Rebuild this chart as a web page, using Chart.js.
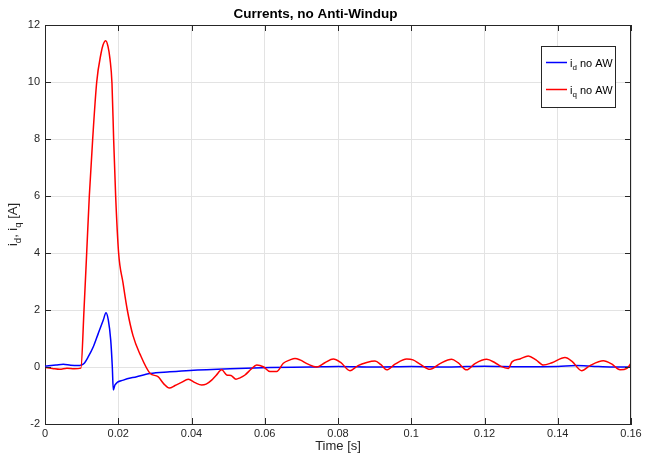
<!DOCTYPE html>
<html><head><meta charset="utf-8">
<script src="https://cdn.jsdelivr.net/npm/chart.js@4/dist/chart.umd.min.js"></script>
<style>html,body{margin:0;padding:0;background:#fff}#wrap{width:645px;height:455px}</style>
</head><body><div id="wrap"><canvas id="c" width="645" height="455"></canvas></div>
<script>
// ---- data ----
const chartTitle = 'Currents, no Anti-Windup';
const xAxisTitle = 'Time [s]';
const xTickValues = [0, 0.02, 0.04, 0.06, 0.08, 0.1, 0.12, 0.14, 0.16];
const xTickLabels = ['0', '0.02', '0.04', '0.06', '0.08', '0.1', '0.12', '0.14', '0.16'];
const yTickValues = [-2, 0, 2, 4, 6, 8, 10, 12];
const yTickLabels = ['-2', '0', '2', '4', '6', '8', '10', '12'];

const timeD = [0, 0.003, 0.005, 0.007, 0.0095, 0.0099, 0.01065, 0.01182, 0.01319, 0.01455, 0.01592, 0.01666, 0.01728, 0.01794, 0.01838, 0.01865, 0.01911, 0.02138, 0.02504, 0.02867, 0.0341, 0.0396, 0.0505, 0.0614, 0.0724, 0.08, 0.09, 0.1, 0.11, 0.12, 0.13, 0.14, 0.145, 0.15, 0.155, 0.16];
const idNoAW = [0.03, 0.07, 0.1, 0.06, 0.05, 0.07, 0.12, 0.36, 0.71, 1.18, 1.65, 1.9, 1.65, 0.95, 0.0, -0.81, -0.63, -0.46, -0.34, -0.23, -0.17, -0.12, -0.06, -0.02, 0.0, 0.02, 0.0, 0.02, 0.0, 0.03, 0.01, 0.02, 0.05, 0.02, 0.0, 0.0];

const timeQ = [0, 0.002, 0.004, 0.006, 0.008, 0.0098, 0.01065, 0.01138, 0.0121, 0.01302, 0.01412, 0.01529, 0.01584, 0.01657, 0.0172, 0.01775, 0.01829, 0.01875, 0.01929, 0.0201, 0.0213, 0.02247, 0.02403, 0.02594, 0.02867, 0.03085, 0.0325, 0.03394, 0.0355, 0.03713, 0.03913, 0.04096, 0.04278, 0.0440, 0.04551, 0.0467, 0.04825, 0.04961, 0.0508, 0.05215, 0.05324, 0.05461, 0.05625, 0.0578, 0.0596, 0.06143, 0.06326, 0.06507, 0.0669, 0.06826, 0.06962, 0.0718, 0.07418, 0.0764, 0.07872, 0.0808, 0.08328, 0.08546, 0.08784, 0.0901, 0.09174, 0.0933, 0.09556, 0.09876, 0.10048, 0.10239, 0.10512, 0.10785, 0.11104, 0.11276, 0.11513, 0.1174, 0.1206, 0.12287, 0.1245, 0.1265, 0.1275, 0.12969, 0.13196, 0.13406, 0.13605, 0.13843, 0.14198, 0.14389, 0.14654, 0.1488, 0.15244, 0.1548, 0.157, 0.1589, 0.16];
const iqNoAW = [-0.02, -0.05, -0.08, -0.04, -0.06, -0.04, 2.0, 4.0, 6.0, 8.0, 10.0, 11.0, 11.3, 11.45, 11.25, 10.8, 9.95, 7.96, 6.0, 4.0, 2.95, 2.0, 1.1, 0.45, -0.22, -0.34, -0.6, -0.74, -0.65, -0.55, -0.43, -0.55, -0.63, -0.6, -0.46, -0.3, -0.1, -0.28, -0.3, -0.43, -0.38, -0.28, -0.08, 0.07, 0.01, -0.16, -0.16, 0.13, 0.25, 0.3, 0.25, 0.1, 0.0, 0.15, 0.28, 0.15, -0.13, 0.05, 0.16, 0.21, 0.08, -0.1, 0.1, 0.28, 0.25, 0.1, -0.08, 0.12, 0.27, 0.15, -0.1, 0.12, 0.27, 0.15, 0.02, -0.05, 0.18, 0.28, 0.39, 0.25, 0.07, 0.15, 0.33, 0.2, -0.13, 0.05, 0.22, 0.1, -0.1, -0.05, 0.13];

const seriesNames = ['no AW', 'no AW'];
const seriesColors = ['#0000ff', '#ff0000'];

// ---- chart ----
const FONT = "'Liberation Sans', Arial, Helvetica, sans-serif";
const toPts = (ts, vs) => ts.map((t, i) => ({x: t, y: vs[i]}));

const decor = {
  id: 'decor',
  afterDraw(chart) {
    const ctx = chart.ctx;
    const a = chart.chartArea;
    const xs = chart.scales.x, ys = chart.scales.y;
    ctx.save();
    ctx.strokeStyle = '#262626';
    ctx.lineWidth = 1;
    ctx.beginPath();
    ctx.moveTo(a.left, a.top + 0.5); ctx.lineTo(a.right, a.top + 0.5);
    ctx.moveTo(a.right - 0.5, a.top); ctx.lineTo(a.right - 0.5, a.bottom);
    const L = 6;
    xTickValues.forEach(v => {
      const px = Math.round(xs.getPixelForValue(v)) + 0.5;
      ctx.moveTo(px, a.bottom); ctx.lineTo(px, a.bottom - L);
      ctx.moveTo(px, a.top); ctx.lineTo(px, a.top + L);
    });
    yTickValues.forEach(v => {
      const py = Math.round(ys.getPixelForValue(v)) + 0.5;
      ctx.moveTo(a.left, py); ctx.lineTo(a.left + L, py);
      ctx.moveTo(a.right, py); ctx.lineTo(a.right - L, py);
    });
    ctx.stroke();

    // y-axis label with subscripts
    const parts = [['i', 13, 0], ['d', 9.5, 3.5], [', i', 13, 0], ['q', 9.5, 3.5], [' [A]', 13, 0]];
    ctx.fillStyle = '#262626';
    let w = 0;
    parts.forEach(p => { ctx.font = p[1] + 'px ' + FONT; w += ctx.measureText(p[0]).width; });
    ctx.translate(17, (a.top + a.bottom) / 2);
    ctx.rotate(-Math.PI / 2);
    ctx.textBaseline = 'alphabetic';
    ctx.textAlign = 'left';
    let cx = -w / 2;
    parts.forEach(p => {
      ctx.font = p[1] + 'px ' + FONT;
      ctx.fillText(p[0], cx, p[2]);
      cx += ctx.measureText(p[0]).width;
    });
    ctx.setTransform(1, 0, 0, 1, 0, 0);

    // legend
    const bx = 541.5, by = 46.5, bw = 74, bh = 61;
    ctx.fillStyle = '#fff';
    ctx.fillRect(bx, by, bw, bh);
    ctx.strokeStyle = '#262626';
    ctx.lineWidth = 1;
    ctx.strokeRect(bx, by, bw, bh);
    const rows = [[62.5, 'd'], [89.5, 'q']];
    rows.forEach((r, i) => {
      ctx.strokeStyle = seriesColors[i];
      ctx.lineWidth = 1.5;
      ctx.beginPath(); ctx.moveTo(546, r[0]); ctx.lineTo(567, r[0]); ctx.stroke();
      ctx.fillStyle = '#000';
      let x = 570;
      ctx.font = '11px ' + FONT;
      ctx.fillText('i', x, r[0] + 4); x += ctx.measureText('i').width;
      ctx.font = '8px ' + FONT;
      ctx.fillText(r[1], x, r[0] + 7); x += ctx.measureText(r[1]).width;
      ctx.font = '11px ' + FONT;
      ctx.fillText(' ' + seriesNames[i], x, r[0] + 4);
    });
    ctx.restore();
  }
};

new Chart(document.getElementById('c'), {
  type: 'line',
  data: {
    datasets: [
      {label: 'i_d ' + seriesNames[0], data: toPts(timeD, idNoAW), borderColor: seriesColors[0], borderWidth: 1.5, pointRadius: 0, cubicInterpolationMode: 'monotone', order: 1},
      {label: 'i_q ' + seriesNames[1], data: toPts(timeQ, iqNoAW), borderColor: seriesColors[1], borderWidth: 1.5, pointRadius: 0, cubicInterpolationMode: 'monotone', order: 0}
    ]
  },
  options: {
    responsive: false,
    animation: false,
    devicePixelRatio: 1,
    layout: {padding: {left: 0, right: 14, top: 0, bottom: 0}},
    plugins: {
      legend: {display: false},
      tooltip: {enabled: false},
      title: {display: true, text: chartTitle, color: '#000', font: {family: FONT, size: 13.5, weight: 'bold'}, padding: {top: 6.4, bottom: 2.4}}
    },
    scales: {
      x: {
        type: 'linear', min: 0, max: 0.16,
        afterBuildTicks: s => { s.ticks = xTickValues.map(v => ({value: v})); },
        afterFit: s => { s.height = 31; },
        ticks: {autoSkip: false, maxRotation: 0, padding: 3, color: '#262626', font: {family: FONT, size: 11},
          callback: (v) => xTickLabels[xTickValues.findIndex(t => Math.abs(t - v) < 1e-9)]},
        grid: {color: '#e3e3e3', drawTicks: false, tickLength: 0},
        border: {display: true, color: '#262626'},
        title: {display: true, text: xAxisTitle, color: '#262626', font: {family: FONT, size: 13}, padding: {top: 0, bottom: 1.2}}
      },
      y: {
        type: 'linear', min: -2, max: 12,
        afterBuildTicks: s => { s.ticks = yTickValues.map(v => ({value: v})); },
        afterFit: s => { s.width = 45; },
        ticks: {autoSkip: false, padding: 5, color: '#262626', font: {family: FONT, size: 11},
          callback: (v) => yTickLabels[yTickValues.findIndex(t => Math.abs(t - v) < 1e-9)]},
        grid: {color: '#e3e3e3', drawTicks: false, tickLength: 0},
        border: {display: true, color: '#262626'}
      }
    }
  },
  plugins: [decor]
});
</script></body></html>
